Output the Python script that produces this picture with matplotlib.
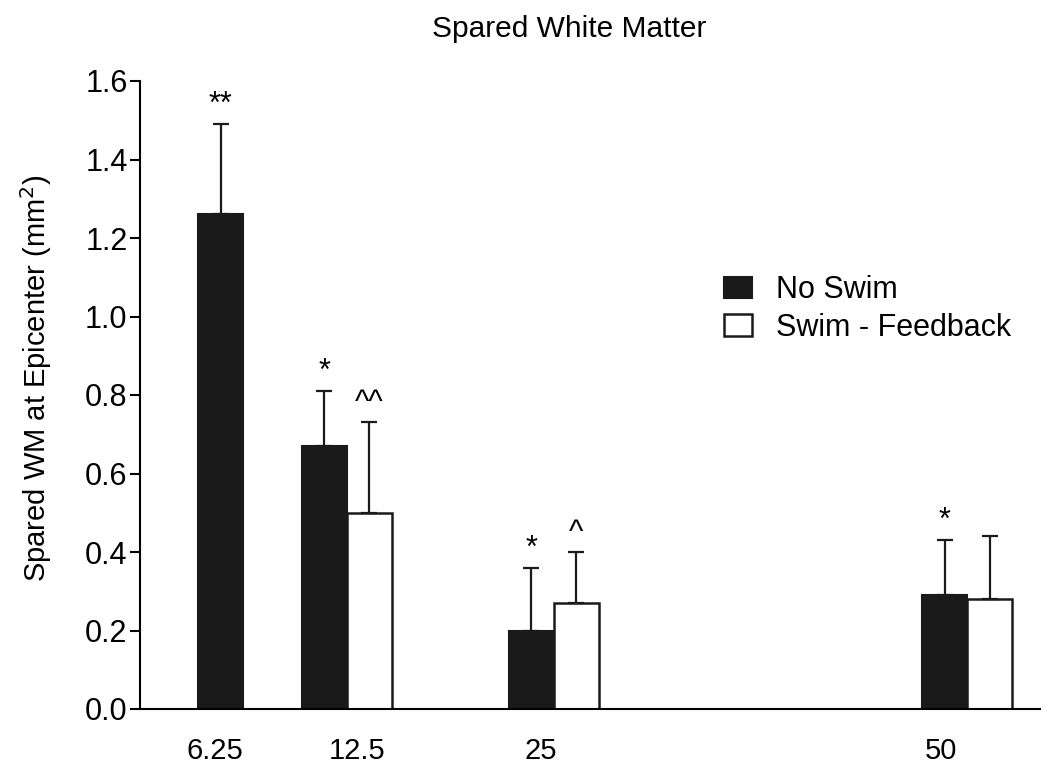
import numpy as np
import matplotlib
matplotlib.use("Agg")
import matplotlib.pyplot as plt

plt.rcParams['font.family'] = ['Liberation Sans', 'DejaVu Sans']

# data
doses = [6.25, 12.5, 25, 50]
dose_labels = ["6.25", "12.5", "25", "50"]
no_swim = [1.26, 0.67, 0.20, 0.29]
no_swim_err = [0.23, 0.14, 0.16, 0.14]
swim_fb = [np.nan, 0.50, 0.27, 0.28]
swim_fb_err = [np.nan, 0.23, 0.13, 0.16]
no_swim_marks = ["**", "*", "*", "*"]
swim_fb_marks = ["", "^^", "^", ""]

# where the x labels sit in the original (they are not centred on the groups)
label_pos = [4.5, 13.1, 24.2, 48.4]
bar_w = 2.72

fig = plt.figure(figsize=(10.5, 7.73), dpi=100)
ax = fig.add_axes([140 / 1050, 1 - 709 / 773, 900 / 1050, 628 / 773])

x = np.array(doses)
ax.bar(x - bar_w / 2, no_swim, bar_w, color="#1a1a1a", edgecolor="#1a1a1a",
       linewidth=1.5, label="No Swim", zorder=2)
ax.bar(x + bar_w / 2, swim_fb, bar_w, color="white", edgecolor="#1a1a1a",
       linewidth=1.8, label="Swim - Feedback", zorder=2)

for xs, ys, es in [(x - bar_w / 2, no_swim, no_swim_err), (x + bar_w / 2, swim_fb, swim_fb_err)]:
    es = np.array(es)
    ax.errorbar(xs, ys, yerr=[np.zeros_like(es), es], fmt="none", ecolor="#1a1a1a",
                elinewidth=1.6, capsize=5.5, capthick=1.6, zorder=3)

for xs, ys, es, marks in [(x - bar_w / 2, no_swim, no_swim_err, no_swim_marks),
                          (x + bar_w / 2, swim_fb, swim_fb_err, swim_fb_marks)]:
    for xi, yi, ei, m in zip(xs, ys, es, marks):
        if m:
            ax.annotate(m, (xi, yi + ei), xytext=(0, 8), textcoords="offset points",
                        ha="center", va="baseline", fontsize=22)

ax.set_xlim(0, 54.4)
ax.set_ylim(0, 1.6)
ax.set_yticks(np.arange(0, 1.61, 0.2))
ax.set_yticklabels([f"{v:.1f}" for v in np.arange(0, 1.61, 0.2)])
ax.set_xticks(label_pos)
ax.set_xticklabels(dose_labels)
ax.tick_params(axis="y", labelsize=22, length=7, width=1.5, pad=2)
ax.tick_params(axis="x", labelsize=21, length=0, pad=20)

for s in ["top", "right"]:
    ax.spines[s].set_visible(False)
for s in ["left", "bottom"]:
    ax.spines[s].set_linewidth(1.5)

fig.text(0.542, 0.962, "Spared White Matter", ha="center", va="center", fontsize=21.5)
fig.text(0.034, 0.511, "Spared WM at Epicenter (mm$^2$)", rotation=90,
         ha="center", va="center", fontsize=21)

ax.legend(loc="upper left", bbox_to_anchor=(724 / 1050, 1 - 275 / 773),
          bbox_transform=fig.transFigure, frameon=False, fontsize=22,
          handlelength=0.9, handleheight=0.7, handletextpad=0.8,
          labelspacing=0.25, borderpad=0, borderaxespad=0)

fig.savefig("out.png", dpi=100)
